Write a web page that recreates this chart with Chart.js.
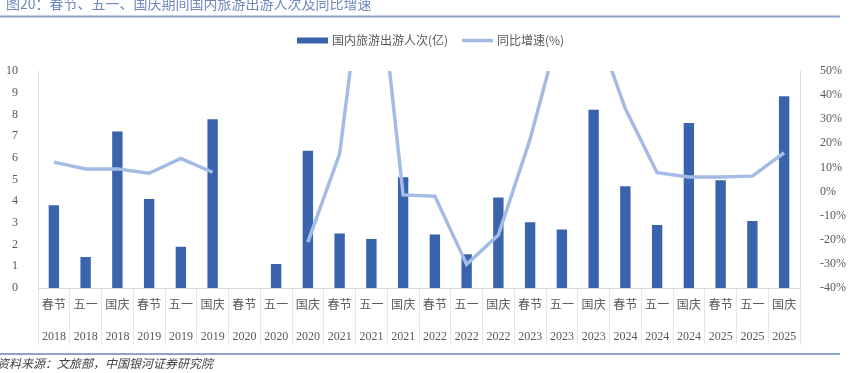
<!DOCTYPE html>
<html lang="zh">
<head>
<meta charset="UTF-8">
<title>图20</title>
<script src="https://cdn.jsdelivr.net/npm/chart.js@4"></script>
<style>
* { margin: 0; padding: 0; }
body { background: #fff; width: 863px; height: 373px; overflow: hidden; }
</style>
</head>
<body>
<canvas id="c" width="863" height="373"></canvas>
<script>
// 数据：春节、五一、国庆 2018-2025
const holidays = ['春节','五一','国庆','春节','五一','国庆','春节','五一','国庆','春节','五一','国庆',
                  '春节','五一','国庆','春节','五一','国庆','春节','五一','国庆','春节','五一','国庆'];
const years = ['2018','2018','2018','2019','2019','2019','2020','2020','2020','2021','2021','2021',
               '2022','2022','2022','2023','2023','2023','2024','2024','2024','2025','2025','2025'];
// 国内旅游出游人次(亿)
const trips = [3.86, 1.47, 7.26, 4.15, 1.95, 7.82, null, 1.15, 6.37, 2.56, 2.30, 5.15,
               2.51, 1.60, 4.22, 3.08, 2.74, 8.26, 4.74, 2.95, 7.65, 5.01, 3.13, 8.88];
// 同比增速(%)
const growth = [12.2, 9.4, 9.4, 7.6, 13.7, 8.0, null, null, -21.0, 15.6, 119.7, -1.4,
                -1.9, -30.2, -18.0, 21.8, 70.8, 71.3, 34.3, 7.8, 6.0, 6.0, 6.4, 16.1];
const leftTicks = [0, 10, 1];
const rightTicks = [-40, 50, 10];

const labels = holidays.map((h, i) => [h, years[i]]);
const FONT = '"Liberation Serif", "Noto Sans CJK SC", serif';
const CJK = '"Noto Sans CJK SC", sans-serif';
const BAR = '#3a63ad';
const LINE = '#a4bbe5';
const TXT = '#595959';
const AXIS = '#d9d9d9';

// 标题、图例、资料来源
const decor = {
  id: 'decor',
  afterDraw(chart) {
    const ctx = chart.ctx;
    ctx.save();
    ctx.fillStyle = '#6f87bd';
    ctx.font = '14px ' + CJK;
    ctx.textBaseline = 'middle';
    ctx.fillText('图20：春节、五一、国庆期间国内旅游出游人次及同比增速', 6, 4);
    ctx.strokeStyle = '#8ea2cf';
    ctx.lineWidth = 2;
    ctx.beginPath(); ctx.moveTo(0, 16.5); ctx.lineTo(840, 16.5); ctx.stroke();
    ctx.beginPath(); ctx.moveTo(0, 354); ctx.lineTo(840, 354); ctx.stroke();

    // 图例
    ctx.fillStyle = BAR;
    ctx.fillRect(297, 37.5, 31, 6);
    ctx.fillStyle = TXT;
    ctx.font = '12px ' + CJK;
    ctx.fillText('国内旅游出游人次(亿)', 332, 40.5);
    ctx.strokeStyle = LINE;
    ctx.lineWidth = 3.5;
    ctx.beginPath(); ctx.moveTo(462, 40.5); ctx.lineTo(493, 40.5); ctx.stroke();
    ctx.fillText('同比增速(%)', 497, 40.5);

    ctx.fillStyle = '#404040';
    ctx.font = 'italic 12px ' + CJK;
    ctx.fillText('资料来源：文旅部，中国银河证券研究院', -3, 363);
    ctx.restore();
  }
};

new Chart(document.getElementById('c'), {
  type: 'bar',
  data: {
    labels: labels,
    datasets: [
      {
        type: 'line',
        label: '同比增速(%)',
        data: growth,
        yAxisID: 'y1',
        borderColor: LINE,
        backgroundColor: LINE,
        borderWidth: 3.5,
        pointRadius: 0,
        tension: 0,
        spanGaps: false,
        clip: 0,
        order: 0
      },
      {
        type: 'bar',
        label: '国内旅游出游人次(亿)',
        data: trips,
        yAxisID: 'y',
        backgroundColor: BAR,
        borderColor: 'rgba(255,255,255,0.7)',
        borderWidth: 1,
        categoryPercentage: 1,
        barPercentage: 0.39,
        order: 1
      }
    ]
  },
  options: {
    responsive: false,
    animation: false,
    layout: { padding: { left: 0, right: 0, top: 71, bottom: 0 } },
    plugins: { legend: { display: false }, tooltip: { enabled: false } },
    scales: {
      x: {
        offset: true,
        grid: { offset: true, drawOnChartArea: false, drawTicks: true, tickLength: 57, color: '#e6e6e6' },
        border: { display: true, color: AXIS },
        ticks: { color: TXT, font: { family: FONT, size: 12, lineHeight: 2.6 }, padding: -55, maxRotation: 0, autoSkip: false },
        afterFit(s) { s.height = 85; }
      },
      y: {
        position: 'left',
        min: leftTicks[0], max: leftTicks[1],
        grid: { display: false },
        border: { display: true, color: AXIS },
        ticks: { stepSize: leftTicks[2], color: TXT, font: { family: FONT, size: 12 }, padding: 12 },
        afterFit(s) { s.width = 38; }
      },
      y1: {
        position: 'right',
        min: rightTicks[0], max: rightTicks[1],
        grid: { display: false },
        border: { display: true, color: AXIS },
        ticks: { stepSize: rightTicks[2], color: TXT, font: { family: FONT, size: 12 }, padding: 12,
                 callback: v => v + '%' },
        afterFit(s) { s.width = 63; }
      }
    }
  },
  plugins: [decor]
});
</script>
</body>
</html>
